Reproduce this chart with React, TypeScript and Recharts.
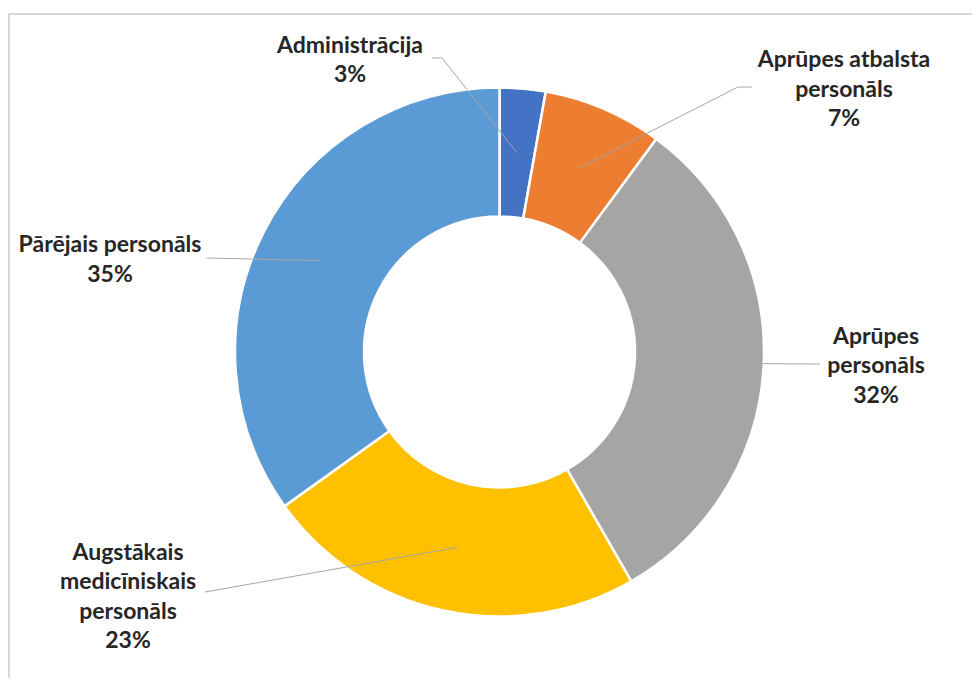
import { PieChart, Pie, Cell } from "recharts";

const categories = [
  "Administrācija",
  "Aprūpes atbalsta personāls",
  "Aprūpes personāls",
  "Augstākais medicīniskais personāls",
  "Pārējais personāls",
];
const shares = [2.8, 7.3, 31.6, 23.4, 34.9];
// how each category name is broken onto lines in the label
const labelLines = [
  ["Administrācija"],
  ["Aprūpes atbalsta", "personāls"],
  ["Aprūpes", "personāls"],
  ["Augstākais", "medicīniskais", "personāls"],
  ["Pārējais personāls"],
];
const colors = ["#4472C4", "#ED7D31", "#A5A5A5", "#FFC000", "#5B9BD5"];

const data = categories.map((name, i) => ({ name, value: shares[i] }));

// label placement (svg coords): block centre, leader end, optional elbow
const labelLayout = [
  { x: 342, y: 50.5, end: [424, 50], elbow: [434, 50] },
  { x: 836, y: 79.5, end: [744, 79], elbow: [730, 79] },
  { x: 868, y: 356, end: [812, 356] },
  { x: 120, y: 587, end: [197, 584] },
  { x: 102, y: 250, end: [199, 250] },
];

const LINE_H = 29.5;
const RAD = Math.PI / 180;

const renderLabel = (props: any) => {
  const { cx, cy, midAngle, innerRadius, outerRadius, percent, index } = props;
  const r = (innerRadius + outerRadius) / 2;
  const sx = cx + r * Math.cos(-midAngle * RAD);
  const sy = cy + r * Math.sin(-midAngle * RAD);
  const lay = labelLayout[index];
  const pts = [[sx, sy]];
  if (lay.elbow) pts.push(lay.elbow);
  pts.push(lay.end);
  const lines = [...labelLines[index], `${Math.round(percent * 100)}%`];
  const top = lay.y - ((lines.length - 1) * LINE_H) / 2;
  return (
    <g>
      <polyline
        points={pts.map((p) => p.join(",")).join(" ")}
        fill="none"
        stroke="#A6A6A6"
        strokeWidth={1}
      />
      <text
        textAnchor="middle"
        fill="#262626"
        fontFamily="Lato, sans-serif"
        fontWeight="bold"
        fontSize={23}
      >
        {lines.map((t, i) => (
          <tspan key={i} x={lay.x} y={top + i * LINE_H} dominantBaseline="central">
            {t}
          </tspan>
        ))}
      </text>
    </g>
  );
};

export default function App() {
  return (
    <div style={{ position: "relative", width: 972, height: 670 }}>
      <div
        style={{
          position: "absolute",
          left: 0,
          top: 5,
          width: 972,
          height: 665,
          borderTop: "2px solid #D9D9D9",
          borderLeft: "2px solid #D9D9D9",
          boxSizing: "border-box",
        }}
      />
      <div style={{ position: "absolute", left: 0, top: 0 }}>
        <PieChart
          width={972}
          height={670}
          margin={{ top: 0, right: 0, bottom: 0, left: 0 }}
        >
          <Pie
            data={data}
            dataKey="value"
            nameKey="name"
            cx={491.5}
            cy={344}
            innerRadius={135.5}
            outerRadius={264.5}
            startAngle={90}
            endAngle={-270}
            stroke="#FFFFFF"
            strokeWidth={2.5}
            label={renderLabel}
            labelLine={false}
            isAnimationActive={false}
          >
            {data.map((d, i) => (
              <Cell key={d.name} fill={colors[i]} />
            ))}
          </Pie>
        </PieChart>
      </div>
    </div>
  );
}
